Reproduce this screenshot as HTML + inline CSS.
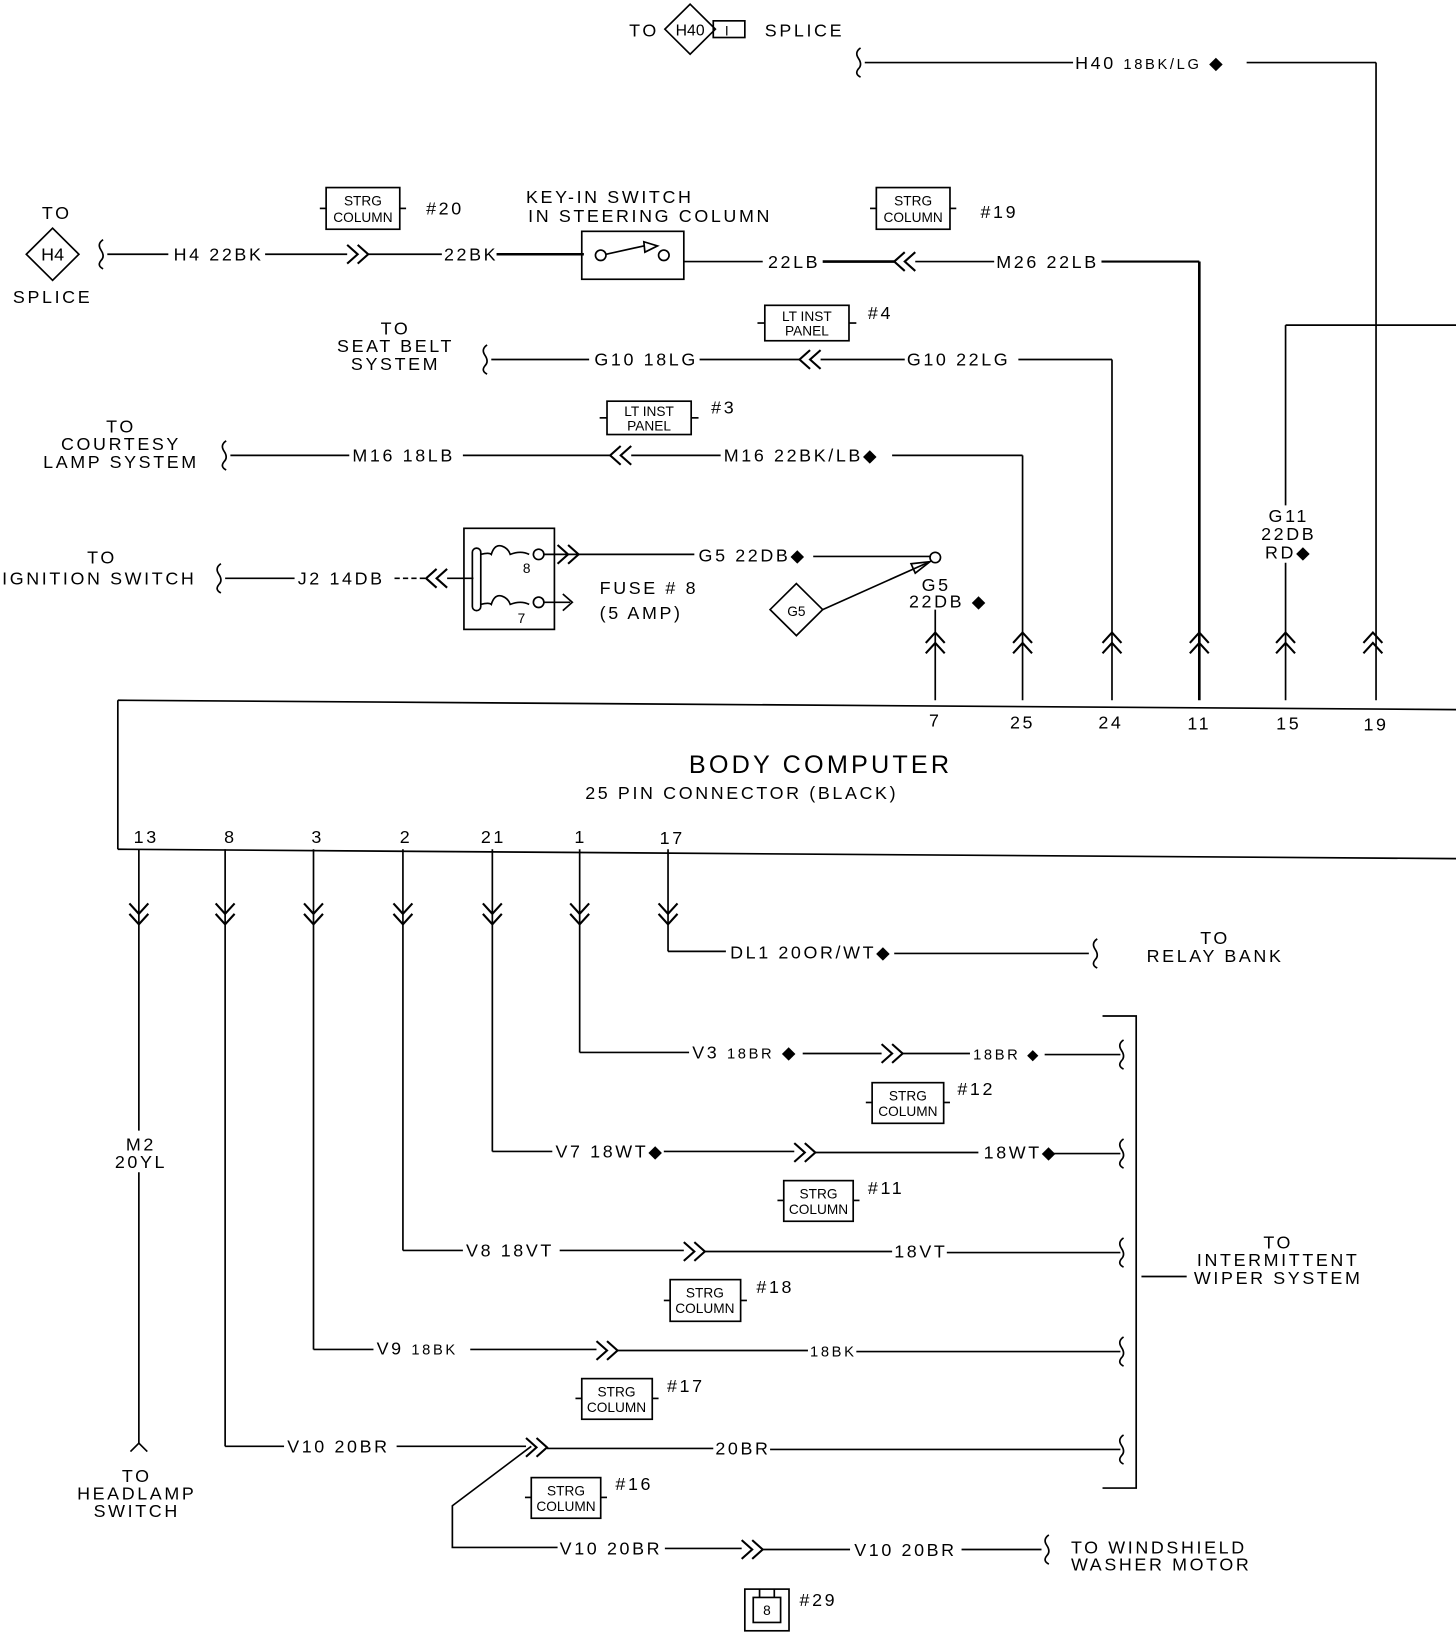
<!DOCTYPE html>
<html><head><meta charset="utf-8"><style>
html,body{margin:0;padding:0;background:#fff}
svg{display:block}
text{font-family:"Liberation Sans",sans-serif;font-size:17px;fill:#000;letter-spacing:2.5px}
.s{font-size:13px;letter-spacing:0}
.m{text-anchor:middle}
</style></head><body>
<svg width="1456" height="1636" viewBox="0 0 1384 1570" preserveAspectRatio="none" xmlns="http://www.w3.org/2000/svg">
<defs>
<g id="rr"><polyline points="-10,-9 0,0 -10,9" fill="none" stroke="#000" stroke-width="2"/><polyline points="0,-9 10,0 0,9" fill="none" stroke="#000" stroke-width="2"/></g>
<g id="ll"><polyline points="10,-9 0,0 10,9" fill="none" stroke="#000" stroke-width="2"/><polyline points="0,-9 -10,0 0,9" fill="none" stroke="#000" stroke-width="2"/></g>
<g id="uu"><polyline points="-9,10 0,0 9,10" fill="none" stroke="#000" stroke-width="2"/><polyline points="-9,0 0,-10 9,0" fill="none" stroke="#000" stroke-width="2"/></g>
<g id="dd"><polyline points="-9,-10 0,0 -9,-10 0,0 9,-10" fill="none" stroke="#000" stroke-width="2"/><polyline points="-9,0 0,10 9,0" fill="none" stroke="#000" stroke-width="2"/></g>
<path id="sq" d="M0,-14 q-6,4 -2,10 q4,6 0,10 q-4,5 2,8" fill="none" stroke="#000" stroke-width="1.6"/>
</defs>
<g stroke="#000" stroke-width="1.6" fill="none">
<polygon points="656,4 680,28 656,52 632,28"/>
<rect x="678" y="20" width="30" height="16"/>
<line x1="822" y1="60" x2="1020" y2="60"/>
<line x1="1185" y1="60" x2="1308" y2="60"/>
<line x1="1308" y1="60" x2="1308" y2="672"/>
<polygon points="50,219 75,244 50,269 25,244"/>
<line x1="102" y1="244" x2="160" y2="244"/>
<line x1="252" y1="244" x2="330" y2="244"/>
<line x1="350" y1="244" x2="420" y2="244"/>
<line x1="472" y1="244" x2="555" y2="244" stroke-width="2.5"/>
<rect x="553" y="222" width="97" height="46"/>
<circle cx="571" cy="245" r="5"/><circle cx="631" cy="245" r="5"/>
<line x1="576" y1="244" x2="612" y2="236"/><polygon points="612,232 625,236 613,242"/>
<line x1="650" y1="251" x2="725" y2="251"/>
<line x1="782" y1="251" x2="850" y2="251" stroke-width="2.5"/>
<line x1="870" y1="251" x2="945" y2="251"/>
<line x1="1047" y1="251" x2="1140" y2="251" stroke-width="2"/>
<line x1="1140" y1="251" x2="1140" y2="672" stroke-width="2.5"/>
<rect x="310" y="180" width="70" height="40"/><line x1="304" y1="200" x2="310" y2="200"/><line x1="380" y1="200" x2="386" y2="200"/>
<rect x="833" y="180" width="70" height="40"/><line x1="827" y1="200" x2="833" y2="200"/><line x1="903" y1="200" x2="909" y2="200"/>
<rect x="727" y="293" width="80" height="34"/><line x1="720" y1="310" x2="727" y2="310"/><line x1="807" y1="310" x2="814" y2="310"/>
<line x1="467" y1="345" x2="560" y2="345"/>
<line x1="665" y1="345" x2="760" y2="345"/>
<line x1="780" y1="345" x2="860" y2="345"/>
<line x1="968" y1="345" x2="1057" y2="345"/>
<line x1="1057" y1="345" x2="1057" y2="672"/>
<rect x="577" y="385" width="80" height="32"/><line x1="570" y1="401" x2="577" y2="401"/><line x1="657" y1="401" x2="664" y2="401"/>
<line x1="219" y1="437" x2="332" y2="437"/>
<line x1="440" y1="437" x2="580" y2="437"/>
<line x1="600" y1="437" x2="685" y2="437"/>
<line x1="848" y1="437" x2="972" y2="437"/>
<line x1="972" y1="437" x2="972" y2="672"/>
<line x1="214" y1="555" x2="280" y2="555"/>
<line x1="375" y1="555" x2="405" y2="555" stroke-dasharray="5,3"/>
<line x1="425" y1="555" x2="450" y2="555"/>
<rect x="441" y="507" width="86" height="97"/>
<rect x="449" y="526" width="8" height="60" rx="4"/>
<path d="M457,532 q8,-2 10,0 q3,-10 10,-8 q6,2 8,8 q10,-4 18,0"/>
<path d="M457,580 q8,-2 10,0 q3,-10 10,-8 q6,2 8,8 q10,-4 18,0"/>
<circle cx="512" cy="532" r="5"/><circle cx="512" cy="578" r="5"/>
<line x1="517" y1="532" x2="550" y2="532"/>
<line x1="517" y1="578" x2="542" y2="578"/><polyline points="535,570 544,578 535,586"/>
<line x1="550" y1="532" x2="660" y2="532"/>
<line x1="773" y1="534" x2="885" y2="534"/>
<circle cx="889" cy="535" r="5"/>
<polygon points="757,560 782,585 757,610 732,585"/>
<line x1="782" y1="585" x2="884" y2="539"/><polygon points="884,539 866,541 870,550"/>
<line x1="889" y1="585" x2="889" y2="672"/>
<line x1="1222" y1="312" x2="1384" y2="312"/>
<line x1="1222" y1="312" x2="1222" y2="485"/>
<line x1="1222" y1="540" x2="1222" y2="672"/>
<line x1="112" y1="672" x2="1384" y2="681"/>
<line x1="112" y1="672" x2="112" y2="815"/>
<line x1="112" y1="815" x2="1384" y2="824"/>
<line x1="132" y1="815" x2="132" y2="1085"/><line x1="132" y1="1125" x2="132" y2="1385"/>
<line x1="214" y1="815" x2="214" y2="1388"/>
<line x1="298" y1="815" x2="298" y2="1295"/>
<line x1="383" y1="815" x2="383" y2="1200"/>
<line x1="468" y1="815" x2="468" y2="1105"/>
<line x1="551" y1="815" x2="551" y2="1010"/>
<line x1="635" y1="815" x2="635" y2="913"/>
<line x1="635" y1="913" x2="690" y2="913"/>
<line x1="850" y1="915" x2="1035" y2="915"/>
<line x1="551" y1="1010" x2="655" y2="1010"/>
<line x1="763" y1="1011" x2="838" y2="1011"/>
<line x1="858" y1="1011" x2="922" y2="1011"/>
<line x1="993" y1="1012" x2="1065" y2="1012"/>
<rect x="829" y="1039" width="68" height="39"/><line x1="823" y1="1058" x2="829" y2="1058"/><line x1="897" y1="1058" x2="903" y2="1058"/>
<line x1="468" y1="1105" x2="525" y2="1105"/>
<line x1="631" y1="1105" x2="755" y2="1105"/>
<line x1="775" y1="1106" x2="930" y2="1106"/>
<line x1="1000" y1="1107" x2="1065" y2="1107"/>
<rect x="745" y="1133" width="66" height="39"/><line x1="739" y1="1152" x2="745" y2="1152"/><line x1="811" y1="1152" x2="817" y2="1152"/>
<line x1="383" y1="1200" x2="440" y2="1200"/>
<line x1="532" y1="1200" x2="650" y2="1200"/>
<line x1="670" y1="1201" x2="848" y2="1201"/>
<line x1="900" y1="1202" x2="1065" y2="1202"/>
<rect x="637" y="1228" width="67" height="40"/><line x1="631" y1="1248" x2="637" y2="1248"/><line x1="704" y1="1248" x2="710" y2="1248"/>
<line x1="298" y1="1295" x2="355" y2="1295"/>
<line x1="447" y1="1295" x2="567" y2="1295"/>
<line x1="587" y1="1296" x2="768" y2="1296"/>
<line x1="814" y1="1297" x2="1065" y2="1297"/>
<rect x="553" y="1323" width="67" height="39"/><line x1="547" y1="1342" x2="553" y2="1342"/><line x1="620" y1="1342" x2="626" y2="1342"/>
<line x1="214" y1="1388" x2="270" y2="1388"/>
<line x1="377" y1="1388" x2="500" y2="1388"/>
<line x1="520" y1="1390" x2="678" y2="1390"/>
<line x1="732" y1="1391" x2="1065" y2="1391"/>
<rect x="505" y="1418" width="66" height="39"/><line x1="499" y1="1437" x2="505" y2="1437"/><line x1="571" y1="1437" x2="577" y2="1437"/>
<polyline points="505,1388 430,1445 430,1485 530,1485"/>
<line x1="632" y1="1486" x2="705" y2="1486"/>
<line x1="725" y1="1487" x2="808" y2="1487"/>
<line x1="914" y1="1487" x2="990" y2="1487"/>
<polyline points="1048,975 1080,975 1080,1428 1048,1428"/>
<line x1="1085" y1="1225" x2="1128" y2="1225"/>
<path d="M124,1393 L132,1385 L140,1393"/>
<rect x="708" y="1525" width="42" height="40"/>
<rect x="716" y="1533" width="26" height="24"/>
<line x1="722" y1="1525" x2="722" y2="1533"/><line x1="736" y1="1525" x2="736" y2="1533"/>
</g>
<use href="#sq" x="818" y="60"/>
<use href="#sq" x="98" y="244"/>
<use href="#sq" x="463" y="345"/>
<use href="#sq" x="215" y="437"/>
<use href="#sq" x="210" y="555"/>
<use href="#sq" x="1043" y="915"/>
<use href="#sq" x="1068" y="1012"/>
<use href="#sq" x="1068" y="1107"/>
<use href="#sq" x="1068" y="1202"/>
<use href="#sq" x="1068" y="1297"/>
<use href="#sq" x="1068" y="1391"/>
<use href="#sq" x="997" y="1487"/>
<use href="#rr" x="340" y="244"/>
<use href="#ll" x="860" y="251"/>
<use href="#ll" x="770" y="345"/>
<use href="#ll" x="590" y="437"/>
<use href="#ll" x="415" y="555"/>
<use href="#rr" x="540" y="532"/>
<use href="#uu" x="889" y="617"/><use href="#uu" x="972" y="617"/><use href="#uu" x="1057" y="617"/>
<use href="#uu" x="1140" y="617"/><use href="#uu" x="1222" y="617"/><use href="#uu" x="1305" y="617"/>
<use href="#dd" x="132" y="877"/><use href="#dd" x="214" y="877"/><use href="#dd" x="298" y="877"/>
<use href="#dd" x="383" y="877"/><use href="#dd" x="468" y="877"/><use href="#dd" x="551" y="877"/><use href="#dd" x="635" y="877"/>
<use href="#rr" x="848" y="1011"/>
<use href="#rr" x="765" y="1106"/>
<use href="#rr" x="660" y="1201"/>
<use href="#rr" x="577" y="1296"/>
<use href="#rr" x="510" y="1389"/>
<use href="#rr" x="715" y="1487"/>
<text x="598" y="35">TO</text><text x="656" y="34" class="m" style="font-size:15px;letter-spacing:0">H40</text><text x="689" y="34" class="s">I</text><text x="727" y="35">SPLICE</text>
<text x="1022" y="66">H40  <tspan style="font-size:14px">18BK/LG</tspan> ◆</text>
<text x="54" y="210" class="m">TO</text><text x="50" y="250" class="m" style="letter-spacing:0">H4</text><text x="50" y="291" class="m">SPLICE</text>
<text x="165" y="250">H4 22BK</text><text x="422" y="250">22BK</text>
<text x="500" y="195">KEY-IN SWITCH</text><text x="502" y="213">IN STEERING COLUMN</text>
<text x="730" y="257">22LB</text><text x="947" y="257">M26 22LB</text>
<text x="345" y="197" class="m s">STRG</text><text x="345" y="213" class="m s">COLUMN</text><text x="405" y="206">#20</text>
<text x="868" y="197" class="m s">STRG</text><text x="868" y="213" class="m s">COLUMN</text><text x="932" y="209">#19</text>
<text x="767" y="308" class="m s">LT INST</text><text x="767" y="322" class="m s">PANEL</text><text x="825" y="306">#4</text>
<text x="376" y="321" class="m">TO</text><text x="376" y="338" class="m">SEAT BELT</text><text x="376" y="355" class="m">SYSTEM</text>
<text x="565" y="351">G10 18LG</text><text x="862" y="351">G10 22LG</text>
<text x="617" y="399" class="m s">LT INST</text><text x="617" y="413" class="m s">PANEL</text><text x="676" y="397">#3</text>
<text x="115" y="415" class="m">TO</text><text x="115" y="432" class="m">COURTESY</text><text x="115" y="449" class="m">LAMP SYSTEM</text>
<text x="335" y="443">M16 18LB</text><text x="688" y="443">M16 22BK/LB◆</text>
<text x="97" y="541" class="m">TO</text><text x="2" y="561">IGNITION SWITCH</text>
<text x="283" y="561">J2 14DB</text>
<text x="497" y="550" class="s">8</text><text x="492" y="598" class="s">7</text>
<text x="570" y="570">FUSE # 8</text><text x="570" y="594">(5 AMP)</text>
<text x="664" y="539">G5 22DB◆</text>
<text x="757" y="591" class="m s">G5</text>
<text x="876" y="567">G5</text><text x="864" y="583">22DB ◆</text>
<text x="1225" y="501" class="m">G11</text><text x="1225" y="518" class="m">22DB</text><text x="1225" y="536" class="m">RD◆</text>
<text x="889" y="697" class="m">7</text><text x="972" y="699" class="m">25</text><text x="1056" y="699" class="m">24</text>
<text x="1140" y="700" class="m">11</text><text x="1225" y="700" class="m">15</text><text x="1308" y="701" class="m">19</text>
<text x="780" y="742" class="m" style="font-size:24px;letter-spacing:3px">BODY COMPUTER</text>
<text x="705" y="767" class="m">25 PIN CONNECTOR (BLACK)</text>
<text x="139" y="809" class="m">13</text><text x="219" y="809" class="m">8</text><text x="302" y="809" class="m">3</text>
<text x="386" y="809" class="m">2</text><text x="469" y="809" class="m">21</text><text x="552" y="809" class="m">1</text><text x="639" y="810" class="m">17</text>
<text x="694" y="920">DL1 20OR/WT◆</text>
<text x="1155" y="906" class="m">TO</text><text x="1155" y="923" class="m">RELAY BANK</text>
<text x="658" y="1016">V3 <tspan style="font-size:14px">18BR</tspan> ◆</text><text x="925" y="1017" style="font-size:14px">18BR ◆</text>
<text x="863" y="1056" class="m s">STRG</text><text x="863" y="1071" class="m s">COLUMN</text><text x="910" y="1051">#12</text>
<text x="528" y="1111">V7 18WT◆</text><text x="935" y="1112">18WT◆</text>
<text x="778" y="1150" class="m s">STRG</text><text x="778" y="1165" class="m s">COLUMN</text><text x="825" y="1146">#11</text>
<text x="443" y="1206">V8 18VT</text><text x="850" y="1207">18VT</text>
<text x="670" y="1245" class="m s">STRG</text><text x="670" y="1260" class="m s">COLUMN</text><text x="719" y="1241">#18</text>
<text x="358" y="1300">V9 <tspan style="font-size:14px">18BK</tspan></text><text x="770" y="1302" style="font-size:14px">18BK</text>
<text x="586" y="1340" class="m s">STRG</text><text x="586" y="1355" class="m s">COLUMN</text><text x="634" y="1336">#17</text>
<text x="273" y="1394">V10 20BR</text><text x="680" y="1396">20BR</text>
<text x="538" y="1435" class="m s">STRG</text><text x="538" y="1450" class="m s">COLUMN</text><text x="585" y="1430">#16</text>
<text x="532" y="1492">V10 20BR</text><text x="812" y="1493">V10 20BR</text>
<text x="1018" y="1491">TO WINDSHIELD</text><text x="1018" y="1507">WASHER MOTOR</text>
<text x="1215" y="1198" class="m">TO</text><text x="1215" y="1215" class="m">INTERMITTENT</text><text x="1215" y="1232" class="m">WIPER SYSTEM</text>
<text x="134" y="1104" class="m">M2</text><text x="134" y="1121" class="m">20YL</text>
<text x="130" y="1422" class="m">TO</text><text x="130" y="1439" class="m">HEADLAMP</text><text x="130" y="1456" class="m">SWITCH</text>
<text x="729" y="1550" class="m s">8</text><text x="760" y="1541">#29</text>
</svg>
</body></html>
